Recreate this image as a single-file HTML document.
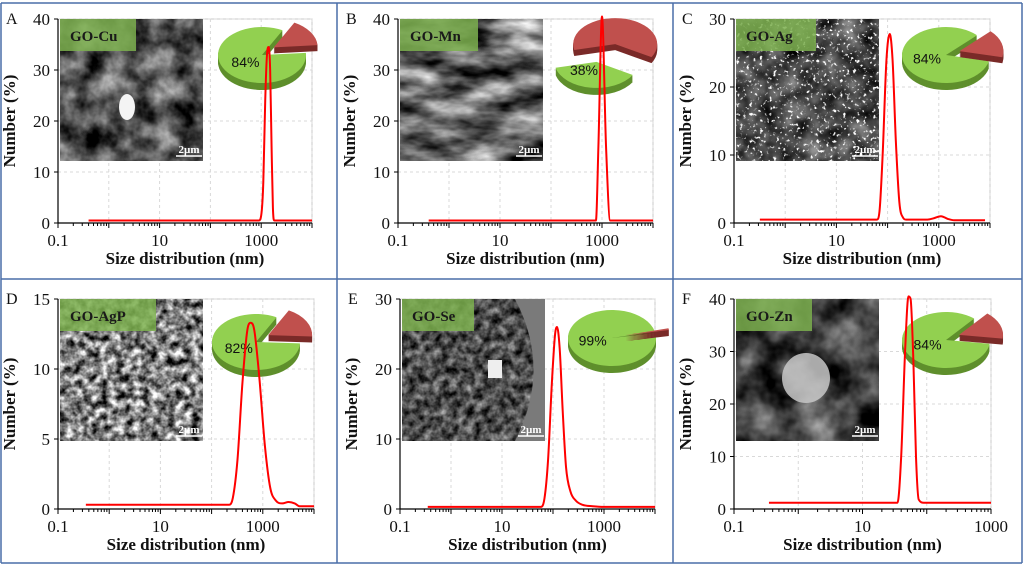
<!DOCTYPE html>
<html><head><meta charset="utf-8">
<style>
body{margin:0;background:#fff;}
svg{display:block;font-family:"Liberation Serif",serif;}
filter{color-interpolation-filters:sRGB;}
</style></head>
<body>
<svg id="fig" width="1024" height="565" viewBox="0 0 1024 565" xmlns="http://www.w3.org/2000/svg">
<defs>
<filter id="semA" x="0" y="0" width="1" height="1" color-interpolation-filters="sRGB"><feTurbulence type="fractalNoise" baseFrequency="0.04" numOctaves="4" seed="3"/><feColorMatrix type="matrix" values="1.2 0 0 0 -0.27  1.2 0 0 0 -0.27  1.2 0 0 0 -0.27  0 0 0 0 1"/></filter>
<filter id="semB" x="0" y="0" width="1" height="1" color-interpolation-filters="sRGB"><feTurbulence type="fractalNoise" baseFrequency="0.02 0.05" numOctaves="4" seed="7"/><feColorMatrix type="matrix" values="1.5 0 0 0 -0.35  1.5 0 0 0 -0.35  1.5 0 0 0 -0.35  0 0 0 0 1"/></filter>
<filter id="semC" x="0" y="0" width="1" height="1" color-interpolation-filters="sRGB"><feTurbulence type="fractalNoise" baseFrequency="0.05" numOctaves="3" seed="11"/><feColorMatrix type="matrix" values="0.8 0 0 0 -0.12  0.8 0 0 0 -0.12  0.8 0 0 0 -0.12  0 0 0 0 1"/></filter>
<filter id="specC" x="0" y="0" width="1" height="1" color-interpolation-filters="sRGB"><feTurbulence type="fractalNoise" baseFrequency="0.3" numOctaves="2" seed="21"/><feColorMatrix type="matrix" values="0 0 0 0 1  0 0 0 0 1  0 0 0 0 1  7 0 0 0 -4.2"/></filter>
<filter id="semD" x="0" y="0" width="1" height="1" color-interpolation-filters="sRGB"><feTurbulence type="fractalNoise" baseFrequency="0.12" numOctaves="3" seed="5"/><feColorMatrix type="matrix" values="1.8 0 0 0 -0.4  1.8 0 0 0 -0.4  1.8 0 0 0 -0.4  0 0 0 0 1"/></filter>
<filter id="semE" x="0" y="0" width="1" height="1" color-interpolation-filters="sRGB"><feTurbulence type="fractalNoise" baseFrequency="0.12" numOctaves="3" seed="9"/><feColorMatrix type="matrix" values="1.0 0 0 0 -0.2  1.0 0 0 0 -0.2  1.0 0 0 0 -0.2  0 0 0 0 1"/></filter>
<filter id="semF" x="0" y="0" width="1" height="1" color-interpolation-filters="sRGB"><feTurbulence type="fractalNoise" baseFrequency="0.025" numOctaves="4" seed="13"/><feColorMatrix type="matrix" values="1.2 0 0 0 -0.35  1.2 0 0 0 -0.35  1.2 0 0 0 -0.35  0 0 0 0 1"/></filter>
</defs>
</svg>
<script>
// ---- data arrays (x in nm, y in %) ----
const panelLetters = ["A","B","C","D","E","F"];
const sampleNames = ["GO-Cu","GO-Mn","GO-Ag","GO-AgP","GO-Se","GO-Zn"];
const piePercents = [84,38,84,82,99,84];
const yMaxes = [40,40,30,15,30,40];
const yTickSteps = [10,10,10,5,10,10];
const xTickLabels = ["0.1","10","1000"];
const xTickValues = [0.1,10,1000];
const sizeA = [0.4,900,1000,1100,1200,1300,1400,1500,1600,1700,1800,10000];
const numA  = [0.5,0.5,1.5,8,24,33,34.5,30,15,3,0.5,0.5];
const sizeB = [0.4,760,850,1000,1200,1450,10000];
const numB  = [0.5,0.5,15,40.5,15,0.5,0.5];
const sizeC = [0.32,62,70,80,95,110,125,145,170,200,230,600,800,1100,1500,2000,8000];
const numC  = [0.5,0.5,2,10,24,27.8,24,12,3,0.8,0.5,0.5,0.7,1,0.6,0.4,0.4];
const sizeD = [0.35,220,260,320,400,500,580,680,850,1100,1400,1800,2400,3200,4200,5200,7000,10000];
const numD  = [0.3,0.3,0.8,3.5,9,12.8,13.3,12.8,9.5,4.5,1.5,0.6,0.4,0.5,0.4,0.2,0.2,0.2];
const sizeE = [0.35,58,68,80,95,110,120,135,155,180,220,280,380,600,1000,10000];
const numE  = [0.3,0.3,1.5,7,18,25,26,23,14,6,2.5,1.2,0.6,0.4,0.3,0.3];
const sizeF = [0.35,35,40,46,52,56,62,68,75,90,1000];
const numF  = [1.2,1.2,10,30,40.5,40,28,10,1.8,1.2,1.2];
const sizes = [sizeA,sizeB,sizeC,sizeD,sizeE,sizeF];
const nums  = [numA,numB,numC,numD,numE,numF];
// ---- layout ----
const layout = [
 {L:58,R:312,T:19,B:223,dec:5, img:[60,19], pie:[262,55], pieA:-62, filt:"semA"},
 {L:398,R:653,T:19,B:223,dec:5, img:[400,19], pie:[606,52], pieA:167, filt:"semB"},
 {L:734,R:990,T:19,B:223,dec:5, img:[736,19], pie:[946,55], pieA:-45, filt:"semC"},
 {L:58,R:314,T:299,B:509,dec:5, img:[60,299], pie:[256,342], pieA:-62, filt:"semD"},
 {L:400,R:655,T:299,B:509,dec:5, img:[402,299], pie:[612,338], pieA:-14, filt:"semE"},
 {L:734,R:991,T:299,B:509,dec:4, img:[736,299], pie:[946,340], pieA:-50, filt:"semF"}
];
const NS="http://www.w3.org/2000/svg";
const svg=document.getElementById('fig');
function mk(tag,attrs,parent){const e=document.createElementNS(NS,tag);for(const k in attrs)e.setAttribute(k,attrs[k]);(parent||svg).appendChild(e);return e;}
const frame=mk('g',{});


[[1,3,1022,3],[1,279,1022,279],[1,563,1022,563],[1,3,1,563],[337,3,337,563],[673,3,673,563],[1022,3,1022,563]].forEach(l=>mk('line',{x1:l[0],y1:l[1],x2:l[2],y2:l[3],stroke:'#4a6ea8','stroke-width':1.5},frame));

function piePath(cx,cy,rx,ry,a0,a1){
  const r=Math.PI/180;const large=(a1-a0)>180?1:0;
  return `M${cx},${cy} L${cx+rx*Math.cos(a0*r)},${cy+ry*Math.sin(a0*r)} A${rx},${ry} 0 ${large} 1 ${cx+rx*Math.cos(a1*r)},${cy+ry*Math.sin(a1*r)} Z`;
}
function drawSlice(g,cx,cy,rx,ry,a0,a1,depth,top,side){
  for(let d=depth;d>0;d--) mk('path',{d:piePath(cx,cy+d,rx,ry,a0,a1),fill:side},g);
  mk('path',{d:piePath(cx,cy,rx,ry,a0,a1),fill:top},g);
}
function monotonePath(pts){
  const n=pts.length;const dx=[],m=[],t=[];
  for(let k=0;k<n-1;k++){dx[k]=pts[k+1][0]-pts[k][0];m[k]=(pts[k+1][1]-pts[k][1])/dx[k];}
  t[0]=m[0];t[n-1]=m[n-2];
  for(let k=1;k<n-1;k++){t[k]=(m[k-1]*m[k]<=0)?0:(m[k-1]+m[k])/2;}
  for(let k=0;k<n-1;k++){if(m[k]===0){t[k]=0;t[k+1]=0;continue;}const a=t[k]/m[k],b=t[k+1]/m[k],s=a*a+b*b;if(s>9){const h=3/Math.sqrt(s);t[k]=h*a*m[k];t[k+1]=h*b*m[k];}}
  let d='M'+pts[0][0]+','+pts[0][1];
  for(let k=0;k<n-1;k++){const h=dx[k]/3;d+=` C${pts[k][0]+h},${pts[k][1]+t[k]*h} ${pts[k+1][0]-h},${pts[k+1][1]-t[k+1]*h} ${pts[k+1][0]},${pts[k+1][1]}`;}
  return d;
}

layout.forEach((p,i)=>{
  const g=mk('g',{});
  
  
  const xmin=-1;
  const X=v=>p.L+(Math.log10(v)-xmin)/p.dec*(p.R-p.L);
  const Y=v=>p.B-v/yMaxes[i]*(p.B-p.T);
  mk('rect',{x:p.L,y:p.T,width:p.R-p.L,height:p.B-p.T,fill:'none',stroke:'#c8c8c8','stroke-width':1},g);
  for(let v=yTickSteps[i];v<=yMaxes[i];v+=yTickSteps[i]){
    mk('line',{x1:p.L,x2:p.R,y1:Y(v),y2:Y(v),stroke:'#d9d9d9','stroke-dasharray':'3,3'},g);
  }
  for(let e=1;e<=p.dec;e++){
    mk('line',{x1:X(Math.pow(10,xmin+e)),x2:X(Math.pow(10,xmin+e)),y1:p.T,y2:p.B,stroke:'#d9d9d9','stroke-dasharray':'3,3'},g);
  }
  const [ix,iy]=p.img;
  const im=mk('g',{},g);
  
  
  mk('rect',{x:ix,y:iy,width:143,height:142,fill:'#444'},im);
  mk('rect',{x:ix,y:iy,width:143,height:142,filter:'url(#'+p.filt+')'},im);
  if(i===2){mk('rect',{x:ix,y:iy,width:143,height:142,filter:'url(#specC)'},im);}
  if(i===0){mk('ellipse',{cx:ix+67,cy:iy+88,rx:8,ry:13,fill:'#f4f4f4'},im);}
  if(i===4){mk('path',{d:`M${ix+113},${iy} Q${ix+150},${iy+70} ${ix+113},${iy+142} L${ix+143},${iy+142} L${ix+143},${iy} Z`,fill:'#7a7a7a'},im);mk('rect',{x:ix+86,y:iy+61,width:14,height:18,fill:'#eee'},im);}
  if(i===5){mk('ellipse',{cx:ix+70,cy:iy+79,rx:24,ry:25,fill:'#c8c8c8',opacity:0.85},im);}
  mk('rect',{x:ix,y:iy,width:[76,78,80,96,72,76][i],height:32,fill:'#7db04f',opacity:0.85},im);
  const lt=mk('text',{x:ix+10,y:iy+22,'font-size':15,'font-weight':'bold',fill:'#1a1a1a'},im);
  lt.textContent=sampleNames[i];
  
  
  const sb=mk('text',{x:ix+129,y:iy+134,'font-size':11,'font-weight':'bold',fill:'#fff','text-anchor':'middle'},im);
  sb.textContent='2µm';
  mk('line',{x1:ix+116,x2:ix+142,y1:iy+137,y2:iy+137,stroke:'#fff','stroke-width':1.5},im);
  const pg=mk('g',{},g);
  
  
  const [cx,cy]=p.pie;const f=piePercents[i]/100;
  const rx=i===1?42:44, ry=i===1?26:28;
  const a0=p.pieA, aRedEnd=a0+(1-f)*360, aGreenEnd=a0+360;
  const midR=(a0+aRedEnd)/2*Math.PI/180, midG=(aRedEnd+aGreenEnd)/2*Math.PI/180;
  const exR=i===1?8:14, exG=i===1?10:0;
  drawSlice(pg,cx+exG*Math.cos(midG)-(i===1?8:0),cy+exG*Math.sin(midG),rx,ry,aRedEnd,aGreenEnd,7,'#92d050','#5f8f2c');
  drawSlice(pg,cx+exR*Math.cos(midR)+(i===1?8:0),cy+exR*Math.sin(midR),rx,ry,a0,aRedEnd,6,'#c0504d','#7a2a28');
  const lx=i===1?cx-22:cx+exG*Math.cos(midG)+Math.cos(midG)*rx*0.45;
  const ly=i===1?cy+23:cy+exG*Math.sin(midG)+Math.sin(midG)*ry*0.45+5;
  const pt=mk('text',{x:lx,y:ly,'font-size':14,'font-family':'Liberation Sans, sans-serif',fill:'#111','text-anchor':'middle'},pg);
  pt.textContent=piePercents[i]+'%';
  mk('line',{x1:p.L,x2:p.L,y1:p.T,y2:p.B,stroke:'#000','stroke-width':1.2},g);
  mk('line',{x1:p.L,x2:p.R,y1:p.B,y2:p.B,stroke:'#000','stroke-width':1.2},g);
  for(let v=0;v<=yMaxes[i];v+=yTickSteps[i]){
    mk('line',{x1:p.L-4,x2:p.L,y1:Y(v),y2:Y(v),stroke:'#000'},g);
    const t=mk('text',{x:p.L-8,y:Y(v)+6,'font-size':17,'text-anchor':'end',fill:'#111'},g);t.textContent=v;
    
    
  }
  for(let e=0;e<p.dec;e++){for(let m=1;m<10;m++){const v=Math.pow(10,xmin+e)*m;const xx=X(v);
    mk('line',{x1:xx,x2:xx,y1:p.B,y2:p.B+(m===1?5:3),stroke:'#000'},g);}}
  mk('line',{x1:p.R,x2:p.R,y1:p.B,y2:p.B+5,stroke:'#000'},g);
  xTickValues.forEach((v,k)=>{const t=mk('text',{x:X(v),y:p.B+23,'font-size':17,'text-anchor':'middle',fill:'#111'},g);t.textContent=xTickLabels[k];
    
    });
  const xt=mk('text',{x:(p.L+p.R)/2,y:p.B+41,'font-size':17,'font-weight':'bold','text-anchor':'middle',fill:'#111'},g);
  xt.textContent='Size distribution (nm)';
  
  
  const yx=p.L-43,yy=(p.T+p.B)/2;
  const yt=mk('text',{x:yx,y:yy,'font-size':17,'font-weight':'bold','text-anchor':'middle',transform:`rotate(-90 ${yx} ${yy})`,fill:'#111'},g);
  yt.textContent='Number (%)';
  
  
  const pl=mk('text',{x:p.L-52,y:p.T+5,'font-size':16,fill:'#111'},g);
  pl.textContent=panelLetters[i];
  
  
  const pts=sizes[i].map((s,k)=>[X(s),Y(nums[i][k])]);
  const c=mk('path',{d:monotonePath(pts),fill:'none',stroke:'#ff0000','stroke-width':2},g);
  
  
});
</script>
</body></html>
